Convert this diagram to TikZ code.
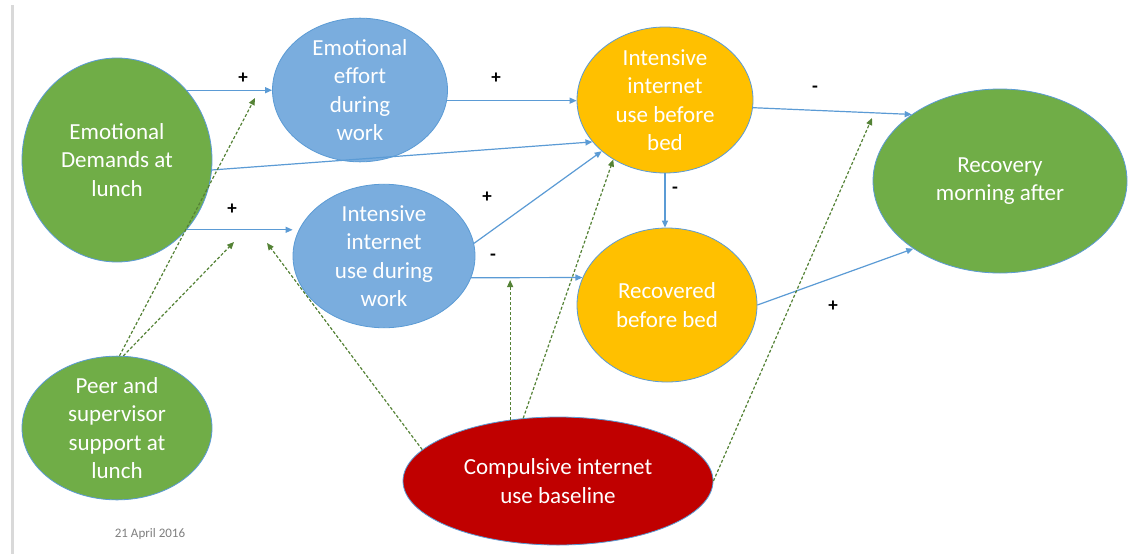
\documentclass[tikz,border=0pt]{standalone}
\usepackage{fontspec}
\setmainfont{Carlito}
\usetikzlibrary{shapes.geometric,arrows.meta,calc}
\definecolor{cblue}{HTML}{7AADDE}
\definecolor{cline}{HTML}{5B9BD5}
\definecolor{cgreen}{HTML}{70AD47}
\definecolor{cdgreen}{HTML}{548235}
\definecolor{corange}{HTML}{FFC000}
\definecolor{cred}{HTML}{C00000}
\definecolor{cgrayline}{HTML}{D9D9D9}
\definecolor{cdate}{HTML}{808080}
\begin{document}
\begin{tikzpicture}[x=1pt,y=-1pt,
  bub/.style={ellipse, draw=cline, line width=0.8pt, inner sep=0pt, text=white, align=center, font=\fontsize{23}{28.5}\selectfont},
  arr/.style={draw=cline, line width=1.2pt, -{Triangle[length=7pt,width=6pt]}},
  dsh/.style={draw=cdgreen, line width=1.2pt, dash pattern=on 3pt off 2pt, -{Triangle[length=7pt,width=6pt]}},
  sgn/.style={font=\fontsize{19}{19}\selectfont\bfseries, text=black, inner sep=0pt}]
\fill[white] (0,0) rectangle (1129,554);
\useasboundingbox (0,0) rectangle (1129,554);
\draw[cgrayline, line width=3pt] (12,5) -- (12,554);

\node[bub, fill=cgreen, minimum width=190pt, minimum height=204pt] (dem) at (117,160) {Emotional\\Demands at\\lunch};
\node[bub, fill=cblue, minimum width=175pt, minimum height=130pt] (eff) at (360,90) {Emotional\\effort\\during\\work};
\node[bub, fill=cblue, minimum width=182pt, minimum height=135pt] (dur) at (384,256) {Intensive\\internet\\use during\\work};
\node[bub, fill=corange, minimum width=176pt, minimum height=146pt] (bed) at (665,100) {Intensive\\internet\\use before\\bed};
\node[bub, fill=corange, minimum width=180pt, minimum height=154pt] (rec) at (667,305) {Recovered\\before bed};
\node[bub, fill=cgreen, minimum width=254pt, minimum height=184pt] (recm) at (1000,181) {Recovery\\morning after};
\node[bub, fill=cgreen, minimum width=190pt, minimum height=134pt] (peer) at (117,428) {Peer and\\supervisor\\support at\\lunch};
\node[bub, fill=cred, minimum width=310pt, minimum height=128pt] (comp) at (558,481) {Compulsive internet\\use baseline};

\coordinate (pa) at (255,98);
\coordinate (pd) at (234,242);
\coordinate (pl) at (267,243);
\coordinate (pm) at (510,280);
\coordinate (po) at (872,118);

% solid arrows
\draw[arr] (dem.45) -- (eff.west |- dem.45);
\draw[arr] (eff.-7) -- (bed.west |- eff.-7);
\draw[arr] (dem.-6) -- (bed.210);
\draw[arr] (dem.-45) -- (dur.west |- dem.-45);
\draw[arr] (dur.8) -- (bed.219);
\draw[arr] (dur.-14) -- (rec.162);
\draw[arr] (bed.south) -- (bed.south |- rec.north);
\draw[arr] (bed.-5) -- (recm.143);
\draw[arr] (rec.0) -- (recm.218);

% dashed arrows
\draw[dsh] (peer.88) -- (pa);
\draw[dsh] (peer.85) -- (pd);
\draw[dsh] (comp.167) -- (pl);
\draw[dsh] (comp.128) -- (comp.128 |- pm);
\draw[dsh] (comp.119) -- (bed.229);
\draw[dsh] (comp.east) -- (po);

% signs
\node[sgn] (s1) at (243,78) {+};
\node[sgn] (s2) at (496,78) {+};
\node[sgn] (s3) at (232,209) {+};
\node[sgn] (s4) at (487,197) {+};
\node[sgn] (s5) at (493,257) {-};
\node[sgn] (s6) at (815,89) {-};
\node[sgn] (s7) at (675,190) {-};
\node[sgn] (s8) at (833,306) {+};

\node[font=\fontsize{13}{13}\selectfont, text=cdate] (date) at (150,534) {21 April 2016};
\end{tikzpicture}
\end{document}
